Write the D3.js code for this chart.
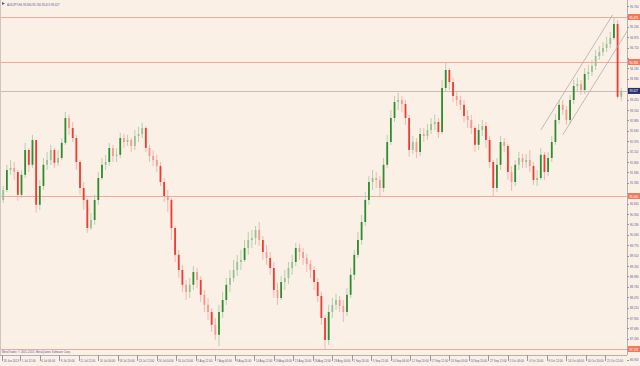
<!DOCTYPE html>
<html>
<head>
<meta charset="utf-8">
<script src="https://cdn.jsdelivr.net/npm/d3@7"></script>
<style>
  body { margin: 0; background: #faf0e6; }
  text { font-family: "Liberation Sans", "DejaVu Sans", sans-serif; }
</style>
</head>
<body>
<div id="chart"></div>
<script>
// AUDJPY H4, one candle here = 3 H4 bars (open = previous close)
const firstOpen = 90.90;
const closes = [
  91.15, 91.65, 91.70, 91.60, 91.03, 91.53, 92.15, 91.78, 92.40, 90.78,
  91.25, 91.78, 91.90, 92.15, 91.83, 91.95, 92.33, 92.95, 92.70, 92.45,
  91.85, 91.20, 90.90, 90.20, 90.40, 90.90, 91.45, 91.78, 91.85, 92.20,
  92.00, 92.03, 92.45, 92.35, 92.40, 92.25, 92.50, 92.55, 92.70, 92.20,
  92.00, 91.90, 91.75, 91.35, 91.00, 90.90, 90.20, 89.53, 89.15, 88.78,
  88.60, 88.78, 89.10, 88.90, 88.53, 88.28, 88.10, 87.78, 87.53, 88.10,
  88.40, 88.78, 88.95, 89.15, 89.35, 89.40, 89.70, 89.90, 89.95, 90.15,
  89.90, 89.60, 89.45, 89.20, 88.65, 88.45, 88.85, 88.95, 89.20, 89.35,
  89.70, 89.60, 89.45, 89.30, 89.15, 88.85, 88.50, 87.95, 87.40, 88.10,
  88.28, 88.40, 88.25, 88.10, 88.53, 89.03, 89.53, 89.90, 90.35, 90.90,
  91.35, 91.45, 91.40, 91.20, 91.78, 92.35, 92.95, 93.35, 93.40, 93.30,
  92.95, 92.15, 92.35, 92.10, 92.55, 92.50, 92.65, 92.80, 92.85, 92.60,
  93.70, 94.15, 93.85, 93.50, 93.40, 93.28, 93.00, 92.90, 92.70, 92.28,
  92.65, 92.75, 92.40, 91.85, 91.20, 91.78, 92.35, 92.25, 91.60, 91.35,
  91.78, 91.95, 91.85, 91.90, 91.75, 91.40, 91.45, 92.03, 91.60, 91.95,
  92.35, 92.90, 93.28, 93.15, 92.90, 93.40, 93.75, 93.80, 93.65, 94.05,
  94.10, 94.25, 94.50, 94.60, 94.70, 94.80, 94.95, 95.30, 93.48, 93.63
];
const highs = [
  91.25, 91.78, 91.90, 91.85, 91.65, 91.65, 92.33, 92.20, 92.53, 92.40,
  91.40, 91.95, 92.10, 92.28, 92.20, 92.15, 92.45, 93.10, 93.03, 92.85,
  92.53, 91.90, 91.35, 90.95, 90.58, 91.03, 91.60, 91.95, 92.03, 92.33,
  92.28, 92.20, 92.58, 92.55, 92.53, 92.45, 92.65, 92.73, 92.83, 92.75,
  92.28, 92.15, 92.03, 91.85, 91.45, 91.15, 90.95, 90.25, 89.65, 89.28,
  88.90, 88.95, 89.25, 89.20, 89.00, 88.65, 88.45, 88.20, 87.95, 88.28,
  88.60, 88.95, 89.15, 89.40, 89.53, 89.65, 89.90, 90.10, 90.15, 90.25,
  90.35, 90.00, 89.78, 89.60, 89.35, 88.83, 89.00, 89.15, 89.35, 89.53,
  89.83, 89.80, 89.70, 89.55, 89.40, 89.25, 88.95, 88.60, 88.03, 88.28,
  88.45, 88.55, 88.50, 88.40, 88.70, 89.20, 89.65, 90.10, 90.53, 91.10,
  91.50, 91.65, 91.60, 91.50, 91.95, 92.53, 93.15, 93.50, 93.58, 93.50,
  93.40, 93.03, 92.50, 92.45, 92.70, 92.70, 92.80, 92.95, 93.03, 92.95,
  93.90, 94.35, 94.20, 93.95, 93.60, 93.50, 93.40, 93.15, 93.03, 92.75,
  92.80, 92.90, 92.85, 92.50, 91.90, 91.95, 92.50, 92.45, 92.30, 91.75,
  91.90, 92.10, 92.05, 92.05, 92.15, 91.85, 91.65, 92.20, 92.10, 92.10,
  92.50, 93.05, 93.40, 93.40, 93.25, 93.53, 93.90, 93.95, 93.90, 94.20,
  94.28, 94.40, 94.65, 94.75, 94.85, 94.98, 95.10, 95.48, 95.40, 93.70
];
const lows = [
  90.83, 91.10, 91.53, 91.40, 90.88, 90.95, 91.45, 91.60, 91.70, 90.58,
  90.65, 91.15, 91.65, 91.78, 91.70, 91.75, 91.90, 92.28, 92.53, 92.35,
  91.65, 91.03, 90.65, 90.08, 90.15, 90.28, 90.78, 91.40, 91.65, 91.75,
  91.85, 91.85, 91.95, 92.20, 92.25, 92.10, 92.15, 92.35, 92.45, 92.10,
  91.85, 91.75, 91.60, 91.25, 90.85, 90.60, 89.90, 89.35, 88.95, 88.60,
  88.40, 88.45, 88.65, 88.70, 88.35, 88.10, 87.90, 87.60, 87.40, 87.25,
  87.95, 88.28, 88.60, 88.85, 89.00, 89.15, 89.35, 89.53, 89.70, 89.78,
  89.75, 89.40, 89.28, 89.03, 88.45, 88.28, 88.40, 88.65, 88.80, 89.03,
  89.25, 89.40, 89.28, 89.10, 88.95, 88.65, 88.35, 87.78, 87.15, 87.28,
  87.95, 88.15, 88.10, 87.85, 88.00, 88.45, 88.90, 89.45, 89.78, 90.25,
  90.78, 91.15, 91.20, 91.00, 91.10, 91.70, 92.28, 92.85, 93.15, 93.10,
  92.78, 91.98, 92.05, 91.95, 92.00, 92.35, 92.40, 92.55, 92.65, 92.45,
  92.55, 93.60, 93.65, 93.35, 93.25, 93.15, 92.85, 92.70, 92.55, 92.10,
  92.15, 92.50, 92.20, 91.70, 91.00, 91.10, 91.65, 92.10, 91.40, 91.13,
  91.25, 91.65, 91.70, 91.70, 91.60, 91.28, 91.25, 91.40, 91.40, 91.50,
  91.85, 92.28, 92.80, 93.03, 92.78, 92.80, 93.30, 93.60, 93.53, 93.55,
  93.90, 94.00, 94.15, 94.40, 94.50, 94.60, 94.70, 94.90, 93.43, 93.38
];

// price axis labels
const priceTicks = [95.750, 95.490, 95.230, 94.970, 94.710, 94.450, 94.190, 93.930, 93.670,
  93.410, 93.150, 92.890, 92.630, 92.370, 92.110, 91.850, 91.590, 91.330, 91.070, 90.810,
  90.550, 90.290, 90.030, 89.770, 89.510, 89.250, 88.990, 88.730, 88.470, 88.210, 87.950,
  87.690, 87.430, 87.170, 86.910];

// time axis labels (H4 bar index is 0 for first, then 15 + 16*k)
const timeLabels = ["26 Jun 2013", "1 Jul 12:00", "4 Jul 04:00", "8 Jul 20:00", "11 Jul 12:00",
  "16 Jul 04:00", "18 Jul 20:00", "23 Jul 12:00", "26 Jul 04:00", "30 Jul 20:00", "2 Aug 12:00",
  "7 Aug 04:00", "9 Aug 20:00", "14 Aug 12:00", "19 Aug 04:00", "21 Aug 20:00", "26 Aug 12:00",
  "29 Aug 04:00", "2 Sep 20:00", "5 Sep 12:00", "10 Sep 04:00", "12 Sep 20:00", "17 Sep 12:00",
  "20 Sep 04:00", "24 Sep 20:00", "27 Sep 12:00", "2 Oct 04:00", "4 Oct 20:00", "9 Oct 12:00",
  "14 Oct 04:00", "16 Oct 20:00", "21 Oct 12:00"];

// horizontal levels drawn on chart, and current bid
const levels = [95.475, 94.350, 91.000, 87.175];
const bid = 93.627;

// trend channel (H4 bar index, price)
const channel = [
  [[442, 92.65], [501, 95.53]],
  [[460, 92.53], [513, 95.13]]
];

const W = 640, H = 366;
const plotR = 627, plotB = 355;
const txt = "#5c5c9c";
const fs = 4.4;      // small MT4 label font
const sx = 0.64;     // squeeze to fit the narrow axis

const svg = d3.select("#chart").append("svg")
  .attr("width", W).attr("height", H);

svg.append("rect").attr("width", W).attr("height", H).attr("fill", "#faf0e6");

const x = d3.scaleLinear().domain([0, 512]).range([2, 2 + 512 * 1.219]);
const y = d3.scaleLinear().domain([86.95, 95.9]).range([358, 0]);

// small squeezed text helper
function label(parent, tx, ty, s, color) {
  return parent.append("text")
    .attr("transform", "translate(" + tx + "," + ty + ") scale(" + sx + ",1)")
    .attr("font-size", fs).attr("fill", color || txt)
    .text(s);
}

svg.append("defs").append("clipPath").attr("id", "plot")
  .append("rect").attr("x", 0).attr("y", 0).attr("width", plotR).attr("height", plotB);

const g = svg.append("g").attr("clip-path", "url(#plot)");

// level lines
g.selectAll("line.level").data(levels).enter().append("line")
  .attr("class", "level")
  .attr("x1", 0).attr("x2", plotR)
  .attr("y1", d => Math.round(y(d)) + 0.5).attr("y2", d => Math.round(y(d)) + 0.5)
  .attr("stroke", "#f2a89a").attr("stroke-width", 1);

g.append("line")
  .attr("x1", 0).attr("x2", plotR)
  .attr("y1", Math.round(y(bid)) + 0.5).attr("y2", Math.round(y(bid)) + 0.5)
  .attr("stroke", "#c9bcb4").attr("stroke-width", 1);

// candles
const candles = closes.map((c, j) => {
  const o = j === 0 ? firstOpen : closes[j - 1];
  return { bar: 3 * j + 1, o, c, h: Math.max(highs[j], o, c), l: Math.min(lows[j], o, c) };
});

const cg = g.selectAll("g.candle").data(candles).enter().append("g").attr("class", "candle");

cg.append("line")
  .attr("x1", d => x(d.bar)).attr("x2", d => x(d.bar))
  .attr("y1", d => y(d.h)).attr("y2", d => y(d.l))
  .attr("stroke", d => d.c >= d.o ? "#b0ccaa" : "#f6b0a8")
  .attr("stroke-width", 0.9);

cg.append("rect")
  .attr("x", d => x(d.bar) - 0.9)
  .attr("width", 1.8)
  .attr("y", d => y(Math.max(d.o, d.c)))
  .attr("height", d => Math.max(0.8, Math.abs(y(d.o) - y(d.c))))
  .attr("fill", d => {
    const big = Math.abs(y(d.o) - y(d.c)) > 10;
    if (d.c >= d.o) return big ? "#2f8c2f" : "#98c293";
    return big ? "#f23a30" : "#f49a92";
  });

// channel lines
g.selectAll("line.chan").data(channel).enter().append("line")
  .attr("class", "chan")
  .attr("x1", d => x(d[0][0])).attr("y1", d => y(d[0][1]))
  .attr("x2", d => x(d[1][0])).attr("y2", d => y(d[1][1]))
  .attr("stroke", "#b8aca6").attr("stroke-width", 0.8);

// frame
svg.append("line").attr("x1", plotR + 0.5).attr("x2", plotR + 0.5).attr("y1", 0).attr("y2", plotB)
  .attr("stroke", "#b9b0ae");
svg.append("line").attr("x1", 0).attr("x2", plotR).attr("y1", plotB + 0.5).attr("y2", plotB + 0.5)
  .attr("stroke", "#b9b0ae");
svg.append("line").attr("x1", 0.5).attr("x2", 0.5).attr("y1", 0).attr("y2", plotB)
  .attr("stroke", "#cfc6c2");

// price axis (labels hidden under level / bid tags, as MT4 does)
const tagYs = levels.concat([bid]).map(d => y(d));
const ax = svg.append("g");
ax.selectAll("line").data(priceTicks).enter().append("line")
  .attr("x1", plotR).attr("x2", plotR + 2)
  .attr("y1", d => Math.round(y(d)) + 0.5).attr("y2", d => Math.round(y(d)) + 0.5)
  .attr("stroke", "#9a94b0");
priceTicks
  .filter(d => tagYs.every(t => Math.abs(t - y(d)) > 5.5))
  .forEach(d => label(ax, plotR + 3, y(d) + 1.5, d.toFixed(3)));

// level labels at right
levels.forEach(d => {
  svg.append("rect").attr("x", plotR + 1).attr("y", y(d) - 3).attr("width", 12).attr("height", 6)
    .attr("fill", "#f0785e");
  label(svg, plotR + 2.5, y(d) + 1.5, d.toFixed(3), "#fff");
});
svg.append("rect").attr("x", plotR + 1).attr("y", y(bid) - 3).attr("width", 12).attr("height", 6)
  .attr("fill", "#23306e");
label(svg, plotR + 2.5, y(bid) + 1.5, bid.toFixed(3), "#fff");

// time axis
const tb = timeLabels.map((t, k) => ({ t, bar: k === 0 ? 0 : 15 + 16 * (k - 1) }));
svg.selectAll("line.tt").data(tb).enter().append("line").attr("class", "tt")
  .attr("x1", d => Math.round(x(d.bar)) + 0.5).attr("x2", d => Math.round(x(d.bar)) + 0.5)
  .attr("y1", plotB).attr("y2", plotB + 6)
  .attr("stroke", "#9a94b0");
tb.forEach(d => label(svg, x(d.bar) + 1.5, 362, d.t));

// header and copyright
svg.append("path").attr("d", "M2,2 L5,3.5 L2,5 Z").attr("fill", txt);
label(svg, 7, 5.5, "AUDJPY,H4  93.580 93.706 93.415 93.627");
label(svg, 2, 353, "MetaTrader, © 2001-2013, MetaQuotes Software Corp.");
</script>
</body>
</html>
